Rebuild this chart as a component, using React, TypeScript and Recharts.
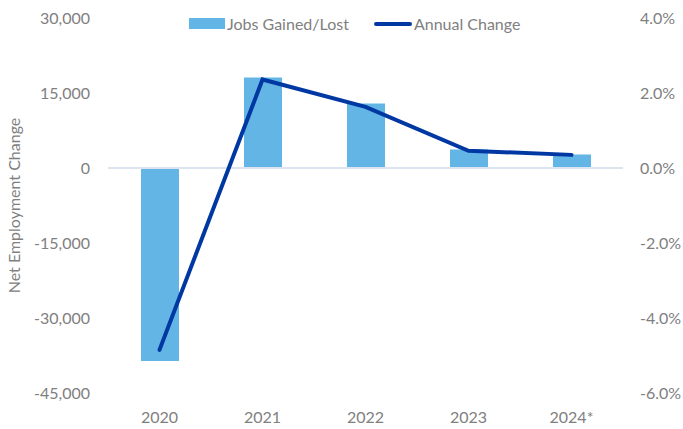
import { ComposedChart, Bar, Line, XAxis, YAxis, ReferenceLine } from 'recharts';

const years = ['2020', '2021', '2022', '2023', '2024*'];
const jobsGainedLost = [-38600, 18100, 12900, 3700, 2700];
const annualChange = [-4.85, 2.36, 1.63, 0.46, 0.35];
const leftTicks = [-45000, -30000, -15000, 0, 15000, 30000];
const rightTicks = [-6, -4, -2, 0, 2, 4];

const BAR_COLOR = '#62b5e5';
const LINE_COLOR = '#0038a3';
const TEXT_COLOR = '#808080';
const FONT = 'Lato, "Open Sans", sans-serif';

const chartData = years.map((year, i) => ({
    year,
    jobs: jobsGainedLost[i],
    change: annualChange[i],
}));

export default function App() {
    const tickStyle = { fill: TEXT_COLOR, fontSize: 16, fontFamily: FONT };
    return (
        <div style={{ position: 'absolute', left: 0, top: 0, width: 683, height: 429, background: '#fff' }}>
            <ComposedChart width={683} height={429} data={chartData} margin={{ top: 18, right: 0, bottom: 0, left: 0 }}>
                <XAxis
                    dataKey="year"
                    axisLine={false}
                    tickLine={false}
                    tickMargin={13}
                    height={36}
                    tick={tickStyle}
                />
                <YAxis
                    yAxisId="left"
                    domain={[-45000, 30000]}
                    ticks={leftTicks}
                    axisLine={false}
                    tickLine={false}
                    tickMargin={12}
                    width={108}
                    tick={tickStyle}
                    tickFormatter={(v: number) => v.toLocaleString('en-US')}
                    label={{
                        value: 'Net Employment Change',
                        angle: -90,
                        position: 'center',
                        dx: -40,
                        style: { fill: TEXT_COLOR, fontSize: 16, fontFamily: FONT },
                    }}
                />
                <YAxis
                    yAxisId="right"
                    orientation="right"
                    domain={[-6, 4]}
                    ticks={rightTicks}
                    axisLine={false}
                    tickLine={false}
                    tickMargin={11}
                    width={60}
                    tick={{ ...tickStyle, textAnchor: 'start' }}
                    tickFormatter={(v: number) => `${v.toFixed(1)}%`}
                />
                <ReferenceLine yAxisId="left" y={0} stroke="#dbe4f0" strokeWidth={2} />
                <Bar yAxisId="left" dataKey="jobs" fill={BAR_COLOR} barSize={38} isAnimationActive={false} />
                <Line
                    yAxisId="right"
                    dataKey="change"
                    type="linear"
                    stroke={LINE_COLOR}
                    strokeWidth={4}
                    strokeLinecap="round"
                    dot={false}
                    isAnimationActive={false}
                />
            </ComposedChart>
            <div
                style={{
                    position: 'absolute',
                    top: 14,
                    left: 189,
                    display: 'flex',
                    alignItems: 'center',
                    fontFamily: FONT,
                    fontSize: 16,
                    color: TEXT_COLOR,
                }}
            >
                <span style={{ display: 'inline-block', width: 36, height: 11, background: BAR_COLOR, marginRight: 2 }} />
                <span>Jobs Gained/Lost</span>
                <span
                    style={{
                        display: 'inline-block',
                        width: 38,
                        height: 4,
                        borderRadius: 2,
                        background: LINE_COLOR,
                        marginLeft: 25,
                        marginRight: 2,
                    }}
                />
                <span>Annual Change</span>
            </div>
        </div>
    );
}
